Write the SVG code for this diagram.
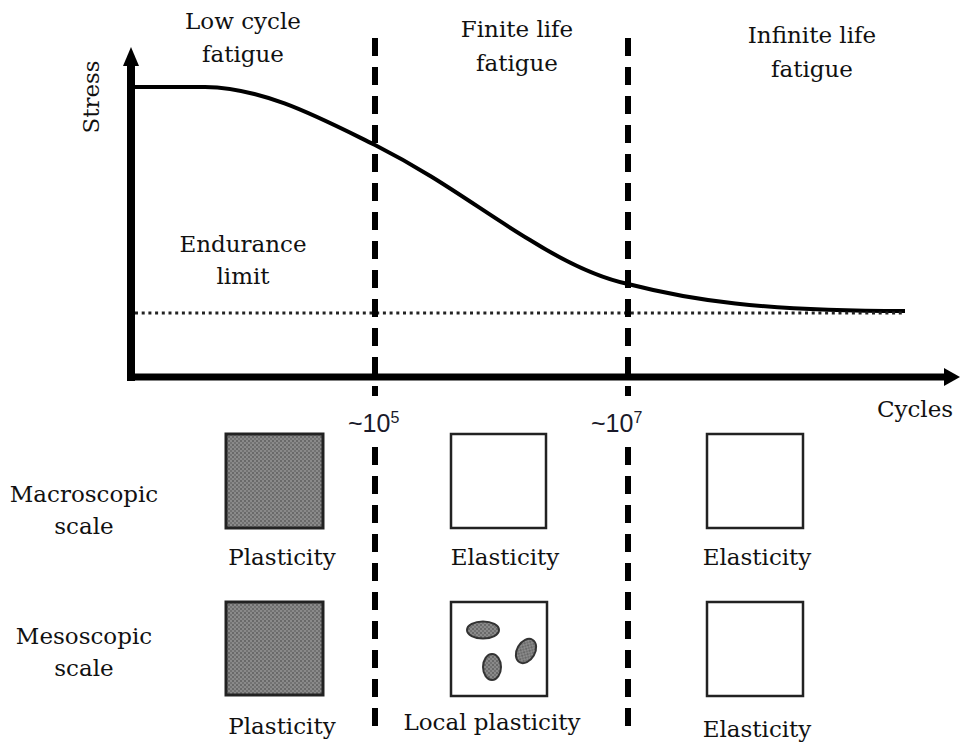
<svg xmlns="http://www.w3.org/2000/svg" width="960" height="744" viewBox="0 0 960 744">
<style>
.t{font-family:"DejaVu Serif","Liberation Serif",serif;font-size:23px;fill:#111;text-anchor:middle}
.s{font-family:"Liberation Sans",Arial,sans-serif;font-size:25px;fill:#1a1a2a}
.sup{font-size:16px}
.dash{stroke:#000;stroke-width:6;stroke-dasharray:18 11;fill:none}
.box{fill:#fff;stroke:#222;stroke-width:2.5}
.gbox{fill:url(#dots);stroke:#222;stroke-width:3}
.blob{fill:url(#dots);stroke:#333;stroke-width:2}
</style>
<defs>
<pattern id="dots" width="4" height="4" patternUnits="userSpaceOnUse">
<rect width="4" height="4" fill="#8a8a8a"/>
<circle cx="1" cy="1" r="1" fill="#5e5e5e"/>
<circle cx="3" cy="3" r="1" fill="#6a6a6a"/>
</pattern>
</defs>
<rect width="960" height="744" fill="#fff"/>
<g id="axes">
<line x1="131" y1="64" x2="131" y2="381" stroke="#000" stroke-width="8"/>
<polygon points="131,47 123,66 139,66" fill="#000"/>
<line x1="127" y1="377" x2="946" y2="377" stroke="#000" stroke-width="7"/>
<polygon points="960,377 944,368 944,386" fill="#000"/>
</g>
<g id="connectors">
<path d="M133,87 L205,87 C265,88 320,118 375,145 C440,178 480,210 530,240 C570,265 600,278 628,284 C690,300 760,311 905,311" fill="none" stroke="#000" stroke-width="4"/>
<line x1="135" y1="313" x2="905" y2="313" stroke="#222" stroke-width="3" stroke-dasharray="3 3.7"/>
<line class="dash" x1="375" y1="38" x2="375" y2="396"/>
<line class="dash" x1="375" y1="447" x2="375" y2="736"/>
<line class="dash" x1="628" y1="38" x2="628" y2="396"/>
<line class="dash" x1="628" y1="447" x2="628" y2="736"/>
</g>
<g id="labels">
<text class="t" x="243" y="29">Low cycle</text>
<text class="t" x="243" y="62">fatigue</text>
<text class="t" x="517" y="37">Finite life</text>
<text class="t" x="517" y="71">fatigue</text>
<text class="t" x="812" y="43">Infinite life</text>
<text class="t" x="812" y="77">fatigue</text>
<text class="t" transform="translate(99,97) rotate(-90)">Stress</text>
<text class="t" x="243" y="252">Endurance</text>
<text class="t" x="243" y="284">limit</text>
<text class="t" x="915" y="417">Cycles</text>
<text class="s" x="348" y="432">~10<tspan class="sup" dy="-9">5</tspan></text>
<text class="s" x="591" y="432">~10<tspan class="sup" dy="-9">7</tspan></text>
<text class="t" x="84" y="502">Macroscopic</text>
<text class="t" x="84" y="534">scale</text>
<text class="t" x="84" y="644">Mesoscopic</text>
<text class="t" x="84" y="676">scale</text>
</g>
<g id="macro-plastic">
<rect class="gbox" x="226" y="434" width="97" height="94"/>
<text class="t" x="282" y="565">Plasticity</text>
</g>
<g id="macro-elastic-1">
<rect class="box" x="451" y="434" width="95" height="94"/>
<text class="t" x="505" y="565">Elasticity</text>
</g>
<g id="macro-elastic-2">
<rect class="box" x="707" y="434" width="96" height="94"/>
<text class="t" x="757" y="565">Elasticity</text>
</g>
<g id="meso-plastic">
<rect class="gbox" x="226" y="602" width="97" height="93"/>
<text class="t" x="282" y="734">Plasticity</text>
</g>
<g id="meso-local">
<rect class="box" x="451" y="602" width="96" height="94"/>
<ellipse class="blob" cx="483" cy="630" rx="16" ry="8.5"/>
<ellipse class="blob" cx="492" cy="667" rx="9" ry="13"/>
<ellipse class="blob" cx="526" cy="651" rx="9" ry="13" transform="rotate(30 526 651)"/>
<text class="t" x="492" y="730">Local plasticity</text>
</g>
<g id="meso-elastic">
<rect class="box" x="707" y="602" width="96" height="94"/>
<text class="t" x="757" y="737">Elasticity</text>
</g>
</svg>
